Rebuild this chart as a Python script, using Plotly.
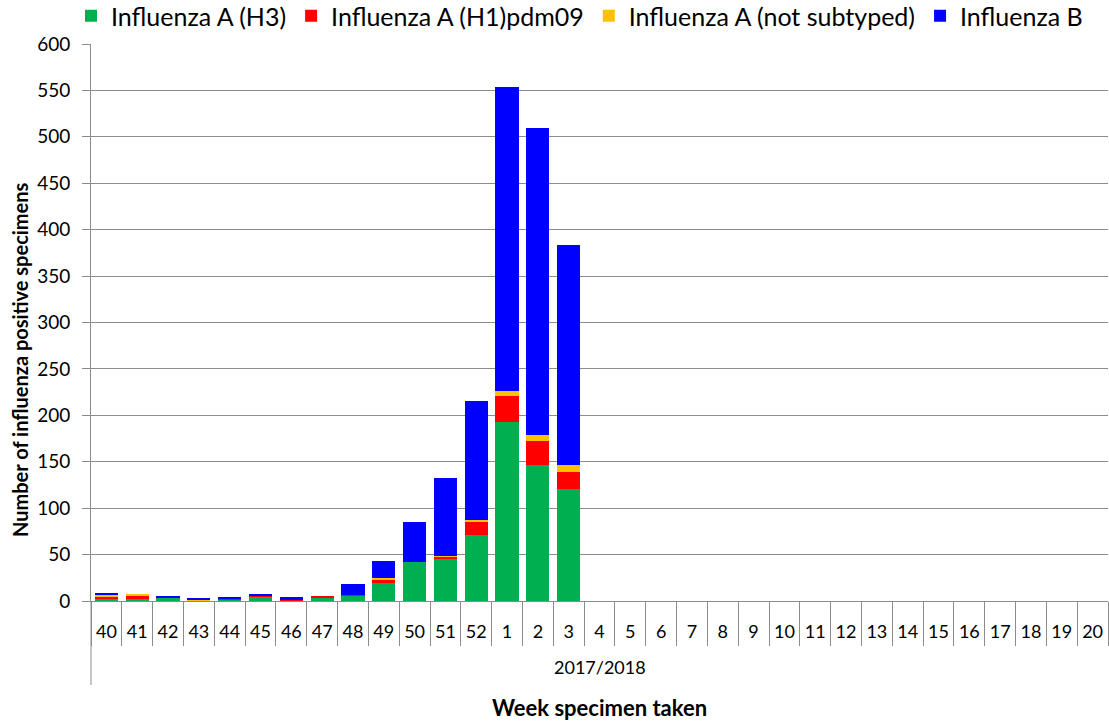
import plotly.graph_objects as go

weeks = ["40", "41", "42", "43", "44", "45", "46", "47", "48", "49", "50", "51", "52",
         "1", "2", "3", "4", "5", "6", "7", "8", "9", "10", "11", "12", "13", "14",
         "15", "16", "17", "18", "19", "20"]
season = "2017/2018"

h3 = [3, 2, 4, 1, 2, 5, 1, 4, 6, 19, 42, 45, 71, 193, 147, 121] + [None] * 17
h1 = [2, 3, 0, 0, 1, 1, 1, 1, 1, 4, 0, 3, 15, 28, 25, 18] + [None] * 17
nst = [1, 3, 0, 1, 0, 0, 0, 0, 0, 2, 0, 1, 1, 5, 7, 8] + [None] * 17
flub = [3, 0, 1, 1, 1, 2, 2, 0, 11, 18, 43, 83, 128, 328, 331, 236] + [None] * 17

series = [
    ("Influenza A (H3)", h3, "#00B050"),
    ("Influenza A (H1)pdm09", h1, "#FF0000"),
    ("Influenza A (not subtyped)", nst, "#FFC000"),
    ("Influenza B", flub, "#0000FF"),
]

FONT = "Lato, 'Open Sans', sans-serif"
GRID = "#8C8C8C"

fig = go.Figure()
for name, vals, col in series:
    fig.add_trace(go.Bar(x=weeks, y=vals, name=name, marker=dict(color=col, line=dict(width=0))))

PW = 1017.0  # plot width in px
PH = 557.0   # plot height in px
fig.update_layout(
    barmode="stack",
    bargap=0.25,
    width=1109, height=723,
    margin=dict(l=91, r=1, t=44, b=122, autoexpand=False),
    plot_bgcolor="white", paper_bgcolor="white",
    font=dict(family=FONT, size=18, color="black"),
    legend=dict(orientation="h", x=71 / 1109, xanchor="left", y=1 - 16 / 723, yanchor="middle",
                yref="container", xref="container", font=dict(size=25), traceorder="normal",
                itemwidth=30),
    xaxis=dict(type="category", tickson="boundaries", ticks="outside", ticklen=44,
               tickcolor=GRID, showline=True, linecolor=GRID,
               tickfont=dict(size=18), ticklabelstandoff=14, range=[-0.5, 32.5]),
    yaxis=dict(range=[0, 600], dtick=50, showgrid=True, gridcolor=GRID, gridwidth=1,
               showline=True, linecolor=GRID, ticks="outside", ticklen=8, tickcolor=GRID,
               tickfont=dict(size=19), ticklabelstandoff=8, zeroline=False),
    shapes=[dict(type="line", xref="paper", yref="paper", x0=0, x1=0, y0=0, y1=-(685 - 601) / PH,
                 line=dict(color=GRID, width=1))],
    annotations=[
        dict(text="<b>Number of influenza positive specimens</b>", xref="paper", yref="paper",
             x=(20 - 91) / PW, y=(601 - 360) / PH, xanchor="center", yanchor="middle",
             textangle=-90, showarrow=False, font=dict(size=20)),
        dict(text=season, xref="paper", yref="paper", x=0.5, y=-(667 - 601) / PH,
             xanchor="center", yanchor="middle", showarrow=False, font=dict(size=18)),
        dict(text="<b>Week specimen taken</b>", xref="paper", yref="paper", x=0.5,
             y=-(708 - 601) / PH, xanchor="center", yanchor="middle", showarrow=False,
             font=dict(size=22)),
    ],
)
fig.write_html("out.html")
